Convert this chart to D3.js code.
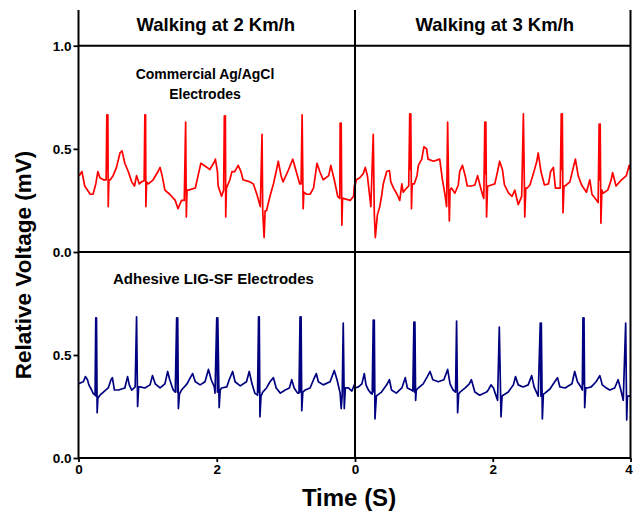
<!DOCTYPE html>
<html><head><meta charset="utf-8">
<script src="https://cdn.jsdelivr.net/npm/d3@7"></script>
<style>
body{margin:0;background:#fff}
svg{display:block}
text{font-family:"Liberation Sans",Arial,sans-serif;font-weight:bold;fill:#000}
</style>
</head><body>
<svg id="c" width="633" height="511"></svg>
<script>
// ---------- DATA ----------
const conditions = ["Walking at 2 Km/h", "Walking at 3 Km/h"];
const commercialLabel = ["Commercial Ag/AgCl", "Electrodes"];
const ligLabel = "Adhesive LIG-SF Electrodes";
const yAxisTitle = "Relative Voltage (mV)";
const xAxisTitle = "Time (S)";
const yTicksTop = [0, 0.5, 1.0];
const yTicksBottom = [0, 0.5];
const xTicksLeft = [0, 2];
const xTicksRight = [0, 2, 4];

// Commercial Ag/AgCl, walking 2 km/h  [time (s), voltage (mV)]
const redWalk2 = [
[0.01,0.37],[0.05,0.39],[0.09,0.32],[0.17,0.28],[0.21,0.28],[0.25,0.33],[0.28,0.39],[0.31,0.36],[0.36,0.35],[0.40,0.35],
[0.41,0.665],[0.42,0.40],[0.425,0.665],[0.43,0.22],[0.44,0.35],
[0.46,0.35],[0.50,0.37],[0.55,0.41],[0.60,0.48],[0.63,0.49],[0.67,0.43],[0.72,0.39],[0.77,0.34],[0.81,0.32],[0.84,0.37],[0.88,0.33],[0.91,0.34],[0.95,0.345],
[0.96,0.665],[0.965,0.40],[0.97,0.665],[0.975,0.22],[0.985,0.34],
[1.01,0.33],[1.08,0.35],[1.15,0.39],[1.18,0.41],[1.21,0.37],[1.25,0.30],[1.32,0.28],[1.40,0.25],[1.44,0.21],[1.49,0.25],[1.53,0.25],
[1.55,0.63],[1.56,0.17],[1.57,0.30],
[1.59,0.30],[1.69,0.31],[1.73,0.37],[1.77,0.43],[1.86,0.41],[1.90,0.40],[1.97,0.44],[1.98,0.45],[2.01,0.39],[2.02,0.32],[2.07,0.27],[2.10,0.30],
[2.11,0.66],[2.12,0.40],[2.125,0.66],[2.13,0.17],[2.14,0.31],
[2.19,0.35],[2.22,0.39],[2.26,0.39],[2.31,0.42],[2.35,0.39],[2.38,0.35],[2.48,0.34],[2.53,0.33],[2.58,0.28],[2.63,0.22],
[2.655,0.57],[2.665,0.20],[2.685,0.07],[2.70,0.20],
[2.72,0.20],[2.77,0.27],[2.82,0.33],[2.86,0.39],[2.89,0.44],[2.93,0.37],[2.96,0.34],[3.04,0.40],[3.10,0.45],[3.15,0.39],[3.20,0.33],[3.22,0.33],
[3.235,0.665],[3.25,0.21],[3.26,0.29],
[3.30,0.28],[3.35,0.28],[3.40,0.31],[3.45,0.43],[3.49,0.39],[3.54,0.35],[3.62,0.37],[3.65,0.42],[3.70,0.35],[3.75,0.27],[3.78,0.26],
[3.785,0.625],[3.795,0.35],[3.80,0.625],[3.81,0.13],[3.82,0.26],
[3.83,0.26],[3.93,0.25],[3.98,0.27],[3.99,0.32],[4.0,0.33]
];

// Commercial Ag/AgCl, walking 3 km/h
const redWalk3 = [
[0.00,0.32],[0.02,0.35],[0.07,0.36],[0.12,0.38],[0.15,0.41],[0.18,0.37],[0.21,0.28],[0.23,0.22],
[0.265,0.57],[0.28,0.19],[0.295,0.07],[0.325,0.18],
[0.36,0.22],[0.39,0.28],[0.41,0.33],[0.46,0.39],[0.50,0.395],[0.52,0.34],[0.56,0.31],[0.61,0.28],[0.65,0.25],[0.68,0.33],[0.70,0.29],[0.75,0.31],[0.78,0.32],
[0.795,0.67],[0.805,0.40],[0.81,0.67],[0.82,0.21],[0.83,0.33],
[0.86,0.33],[0.90,0.37],[0.92,0.42],[0.97,0.45],[1.00,0.51],[1.04,0.50],[1.06,0.45],[1.14,0.44],[1.23,0.45],[1.27,0.35],[1.31,0.27],[1.33,0.22],
[1.345,0.63],[1.36,0.30],[1.37,0.15],[1.38,0.30],
[1.40,0.31],[1.45,0.285],[1.50,0.325],[1.52,0.39],[1.56,0.42],[1.60,0.37],[1.63,0.32],[1.69,0.32],[1.74,0.325],[1.78,0.37],[1.81,0.33],[1.85,0.28],[1.87,0.26],
[1.885,0.63],[1.895,0.38],[1.90,0.63],[1.91,0.17],[1.925,0.32],
[1.935,0.32],[1.98,0.325],[2.03,0.33],[2.07,0.39],[2.10,0.44],[2.14,0.40],[2.17,0.325],[2.23,0.285],[2.28,0.27],[2.32,0.30],[2.37,0.23],[2.42,0.27],
[2.445,0.67],[2.465,0.17],[2.48,0.31],
[2.50,0.31],[2.54,0.325],[2.59,0.38],[2.64,0.44],[2.66,0.48],[2.70,0.39],[2.75,0.325],[2.81,0.33],[2.84,0.39],[2.88,0.41],[2.91,0.31],[2.95,0.31],[2.98,0.31],
[2.995,0.67],[3.005,0.40],[3.01,0.67],[3.02,0.19],[3.035,0.32],
[3.05,0.32],[3.12,0.34],[3.17,0.41],[3.20,0.45],[3.24,0.37],[3.29,0.325],[3.36,0.29],[3.41,0.35],[3.44,0.28],[3.51,0.25],[3.53,0.24],
[3.545,0.62],[3.555,0.35],[3.56,0.62],[3.57,0.14],[3.585,0.30],
[3.60,0.285],[3.67,0.30],[3.72,0.35],[3.74,0.385],[3.79,0.32],[3.87,0.35],[3.94,0.37],[3.98,0.42],[4.00,0.40]
];

// Adhesive LIG-SF, walking 2 km/h
const blueWalk2 = [
[0.00,0.36],[0.07,0.37],[0.10,0.395],[0.13,0.38],[0.15,0.355],[0.19,0.33],[0.21,0.315],[0.24,0.305],
[0.25,0.68],[0.255,0.30],[0.26,0.68],[0.27,0.22],[0.28,0.29],
[0.31,0.305],[0.36,0.32],[0.43,0.34],[0.47,0.38],[0.49,0.39],[0.52,0.33],[0.58,0.33],[0.67,0.34],[0.71,0.395],[0.735,0.355],[0.77,0.33],[0.82,0.345],
[0.84,0.685],[0.855,0.25],[0.87,0.345],
[0.89,0.345],[0.96,0.34],[1.035,0.355],[1.07,0.40],[1.11,0.36],[1.18,0.34],[1.25,0.36],[1.29,0.42],[1.32,0.38],[1.37,0.33],[1.40,0.32],
[1.42,0.68],[1.43,0.32],[1.435,0.68],[1.445,0.24],[1.46,0.31],
[1.49,0.33],[1.57,0.36],[1.61,0.385],[1.65,0.41],[1.69,0.37],[1.76,0.355],[1.83,0.37],[1.88,0.43],[1.92,0.38],[1.965,0.345],[1.975,0.315],
[2.00,0.68],[2.01,0.32],[2.015,0.68],[2.035,0.245],[2.05,0.33],
[2.07,0.34],[2.145,0.345],[2.18,0.38],[2.23,0.42],[2.265,0.37],[2.34,0.35],[2.43,0.37],[2.47,0.42],[2.51,0.36],[2.55,0.315],[2.59,0.305],
[2.605,0.685],[2.61,0.32],[2.615,0.685],[2.625,0.20],[2.64,0.30],
[2.665,0.32],[2.72,0.34],[2.77,0.37],[2.82,0.39],[2.86,0.34],[2.92,0.315],[2.99,0.33],[3.05,0.34],[3.085,0.38],[3.12,0.34],[3.17,0.315],[3.19,0.315],
[3.205,0.685],[3.215,0.32],[3.22,0.685],[3.23,0.23],[3.245,0.32],
[3.28,0.33],[3.35,0.34],[3.40,0.38],[3.44,0.41],[3.47,0.37],[3.54,0.355],[3.64,0.37],[3.70,0.425],[3.74,0.38],[3.785,0.315],[3.80,0.24],[3.815,0.305],
[3.83,0.655],[3.845,0.24],[3.86,0.34],
[3.905,0.34],[3.955,0.325],[3.99,0.355],[4.00,0.36]
];

// Adhesive LIG-SF, walking 3 km/h
const blueWalk3 = [
[0.00,0.34],[0.05,0.345],[0.10,0.36],[0.135,0.41],[0.16,0.355],[0.195,0.33],[0.23,0.315],[0.25,0.31],
[0.265,0.67],[0.275,0.32],[0.28,0.67],[0.29,0.19],[0.31,0.30],
[0.325,0.305],[0.385,0.32],[0.46,0.355],[0.50,0.38],[0.53,0.33],[0.60,0.315],[0.68,0.34],[0.73,0.39],[0.76,0.34],[0.82,0.33],[0.84,0.325],
[0.855,0.66],[0.865,0.32],[0.87,0.66],[0.88,0.28],[0.89,0.33],
[0.92,0.34],[0.99,0.36],[1.05,0.395],[1.09,0.42],[1.13,0.38],[1.21,0.37],[1.29,0.38],[1.345,0.43],[1.38,0.36],[1.425,0.33],[1.46,0.32],
[1.475,0.665],[1.49,0.22],[1.505,0.31],
[1.525,0.32],[1.60,0.34],[1.66,0.36],[1.69,0.38],[1.74,0.32],[1.81,0.305],[1.91,0.32],[1.935,0.33],[1.975,0.355],[2.01,0.34],[2.035,0.315],[2.07,0.28],
[2.095,0.635],[2.12,0.20],[2.135,0.30],
[2.152,0.305],[2.225,0.32],[2.30,0.355],[2.33,0.395],[2.37,0.355],[2.44,0.345],[2.515,0.355],[2.565,0.40],[2.60,0.345],[2.66,0.30],
[2.69,0.655],[2.70,0.30],[2.705,0.655],[2.72,0.19],[2.735,0.31],
[2.758,0.315],[2.83,0.335],[2.90,0.37],[2.94,0.39],[2.975,0.345],[3.05,0.34],[3.15,0.36],[3.19,0.42],[3.23,0.37],[3.28,0.345],[3.30,0.33],
[3.31,0.68],[3.32,0.36],[3.325,0.68],[3.335,0.245],[3.35,0.34],
[3.37,0.34],[3.43,0.345],[3.50,0.37],[3.555,0.40],[3.59,0.355],[3.65,0.34],[3.70,0.33],[3.77,0.34],[3.82,0.38],[3.86,0.33],[3.895,0.28],
[3.93,0.655],[3.945,0.185],[3.955,0.30],
[3.97,0.30],[4.00,0.30]
];

// ---------- LAYOUT ----------
const L = 78.5, M = 355, R = 630.5, T = 10, Y1 = 45.7, YM = 252, B = 458;
const svg = d3.select("#c");

const xLeft = d3.scaleLinear().domain([0, 4]).range([L, M]);
const xRight = d3.scaleLinear().domain([0, 4]).range([M, R]);
const yTop = d3.scaleLinear().domain([0, 1]).range([YM, Y1]);
const yBot = d3.scaleLinear().domain([0, 1]).range([B, YM]);

function drawLine(data, x, y, color) {
  const line = d3.line().x(d => x(d[0])).y(d => y(d[1]));
  svg.append("path").datum(data).attr("d", line)
    .attr("fill", "none").attr("stroke", color)
    .attr("stroke-width", 1.7).attr("stroke-linejoin", "round");
}
drawLine(redWalk2, xLeft, yTop, "#ff0000");
drawLine(redWalk3, xRight, yTop, "#ff0000");
drawLine(blueWalk2, xLeft, yBot, "#000080");
drawLine(blueWalk3, xRight, yBot, "#000080");

// frame
const frame = svg.append("g").attr("stroke", "#000").attr("stroke-width", 2);
[L, M, R].forEach(xx => frame.append("line").attr("x1", xx).attr("x2", xx).attr("y1", T).attr("y2", B));
[Y1, YM, B].forEach(yy => frame.append("line").attr("x1", L).attr("x2", R).attr("y1", yy).attr("y2", yy));

// axes
const fmt1 = d3.format(".1f");
function styleAxis(g) {
  g.select(".domain").remove();
  g.selectAll(".tick line").attr("stroke", "#000").attr("stroke-width", 1.8);
  g.selectAll(".tick text").style("font-size", "13.5px").attr("fill", "#000");
}
svg.append("g").attr("transform", `translate(${L},0)`)
  .call(d3.axisLeft(yTop).tickValues(yTicksTop).tickFormat(fmt1).tickSize(5).tickPadding(2)).call(styleAxis);
svg.append("g").attr("transform", `translate(${L},0)`)
  .call(d3.axisLeft(yBot).tickValues(yTicksBottom).tickFormat(fmt1).tickSize(5).tickPadding(2)).call(styleAxis);
svg.append("g").attr("transform", `translate(0,${B})`)
  .call(d3.axisBottom(xLeft).tickValues(xTicksLeft).tickFormat(d3.format("d")).tickSize(4).tickPadding(2)).call(styleAxis);
const xr = svg.append("g").attr("transform", `translate(0,${B})`)
  .call(d3.axisBottom(xRight).tickValues(xTicksRight).tickFormat(d3.format("d")).tickSize(4).tickPadding(2)).call(styleAxis);
xr.selectAll(".tick text").filter(d => d === 4).attr("dx", "-2");

// titles
svg.append("text").attr("x", (L + M) / 2 - 1).attr("y", 31).attr("text-anchor", "middle")
  .style("font-size", "18.5px").text(conditions[0]);
svg.append("text").attr("x", (M + R) / 2 + 2).attr("y", 31).attr("text-anchor", "middle")
  .style("font-size", "18.5px").text(conditions[1]);

svg.append("text").attr("x", 205).attr("y", 79).attr("text-anchor", "middle")
  .style("font-size", "14px").text(commercialLabel[0]);
svg.append("text").attr("x", 205).attr("y", 99).attr("text-anchor", "middle")
  .style("font-size", "14px").text(commercialLabel[1]);
svg.append("text").attr("x", 113).attr("y", 284)
  .style("font-size", "15px").text(ligLabel);

svg.append("text").attr("transform", "translate(31,265) rotate(-90)").attr("text-anchor", "middle")
  .style("font-size", "22.5px").text(yAxisTitle);
svg.append("text").attr("x", 349).attr("y", 506).attr("text-anchor", "middle")
  .style("font-size", "24px").text(xAxisTitle);
</script>
</body></html>
